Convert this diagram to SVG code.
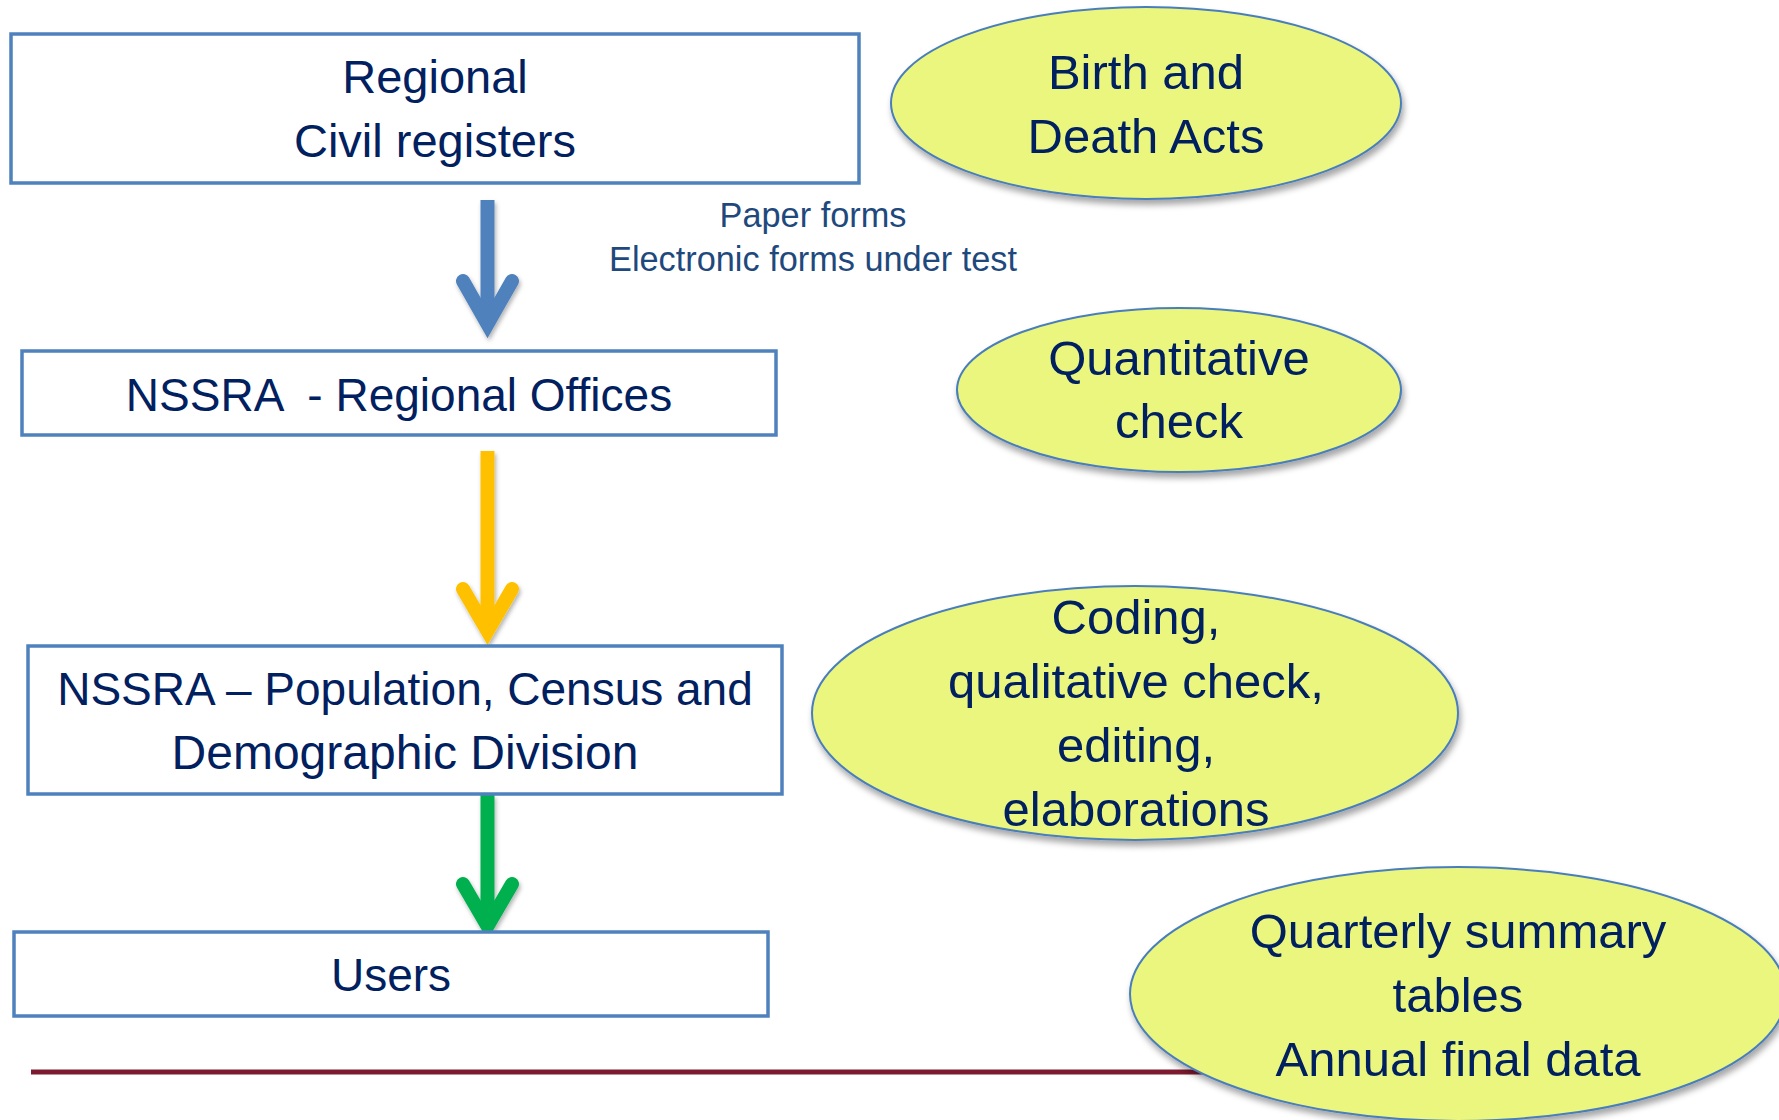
<svg xmlns="http://www.w3.org/2000/svg" width="1779" height="1120" viewBox="0 0 1779 1120">
  <style>
    .box { fill: #ffffff; stroke: #4F81BD; stroke-width: 3.5; }
    .oval { fill: #EBF67E; stroke: #4A7EBB; stroke-width: 2; filter: url(#shadow); }
    .t { font-family: "Liberation Sans", Arial, sans-serif; fill: #002060; text-anchor: middle; }
    .bt { font-size: 46px; }
    .bt2 { font-size: 47px; }
    .bt3 { font-size: 48px; }
    .et { font-size: 49px; }
    .st { font-family: "Liberation Sans", Arial, sans-serif; fill: #1F497D; text-anchor: middle; font-size: 34.3px; }
    .shaft { fill: none; stroke-width: 14; stroke-linecap: butt; }
    .head { fill: none; stroke-width: 14; stroke-linecap: round; stroke-linejoin: miter; stroke-miterlimit: 4; }
  </style>
  <defs>
    <filter id="shadow" x="-10%" y="-10%" width="125%" height="135%">
      <feDropShadow dx="2" dy="5" stdDeviation="3" flood-color="#000000" flood-opacity="0.35"/>
    </filter>
    <filter id="ashadow" x="-50%" y="-10%" width="200%" height="130%">
      <feDropShadow dx="1.5" dy="3" stdDeviation="2" flood-color="#000000" flood-opacity="0.3"/>
    </filter>
  </defs>

  <rect width="1779" height="1120" fill="#ffffff"/>

  <!-- bottom rule -->
  <line x1="31" y1="1072" x2="1300" y2="1072" stroke="#7E1A2F" stroke-width="5"/>

  <g id="connectors">
    <g id="arrow-blue" stroke="#4F81BD" filter="url(#ashadow)">
      <line class="shaft" x1="487.5" y1="200" x2="487.5" y2="324"/>
      <polyline class="head" points="463,281 487.5,324 512,281"/>
    </g>
    <g id="arrow-yellow" stroke="#FFC000" filter="url(#ashadow)">
      <line class="shaft" x1="487.5" y1="451" x2="487.5" y2="631"/>
      <polyline class="head" points="463,589 487.5,631 512,589"/>
    </g>
    <g id="arrow-green" stroke="#00B050" filter="url(#ashadow)">
      <line class="shaft" x1="487.5" y1="795" x2="487.5" y2="926"/>
      <polyline class="head" points="463,884 487.5,926 512,884"/>
    </g>
    <g id="label-forms">
      <text class="st" x="813" y="227">Paper forms</text>
      <text class="st" x="813" y="271">Electronic forms under test</text>
    </g>
  </g>

  <g id="node-civil-registers">
    <rect class="box" x="11" y="34" width="848" height="149"/>
    <text class="t bt2" x="435" y="93">Regional</text>
    <text class="t bt2" x="435" y="157">Civil registers</text>
  </g>

  <g id="node-regional-offices">
    <rect class="box" x="22" y="351" width="754" height="84"/>
    <text class="t bt" x="399" y="411" xml:space="preserve">NSSRA  - Regional Offices</text>
  </g>

  <g id="node-population-division">
    <rect class="box" x="28" y="646" width="754" height="148"/>
    <text class="t bt" x="405" y="705">NSSRA – Population, Census and</text>
    <text class="t bt3" x="405" y="769">Demographic Division</text>
  </g>

  <g id="node-users">
    <rect class="box" x="14" y="932" width="754" height="84"/>
    <text class="t bt" x="391" y="991">Users</text>
  </g>

  <g id="oval-birth-death">
    <ellipse class="oval" cx="1146" cy="103" rx="255" ry="96"/>
    <text class="t et" x="1146" y="89">Birth and</text>
    <text class="t et" x="1146" y="153">Death Acts</text>
  </g>

  <g id="oval-quantitative">
    <ellipse class="oval" cx="1179" cy="390" rx="222" ry="82"/>
    <text class="t et" x="1179" y="375">Quantitative</text>
    <text class="t et" x="1179" y="438">check</text>
  </g>

  <g id="oval-coding">
    <ellipse class="oval" cx="1135" cy="713" rx="323" ry="127"/>
    <text class="t et" x="1136" y="634">Coding,</text>
    <text class="t et" x="1136" y="698">qualitative check,</text>
    <text class="t et" x="1136" y="762">editing,</text>
    <text class="t et" x="1136" y="826">elaborations</text>
  </g>

  <g id="oval-outputs">
    <ellipse class="oval" cx="1458" cy="994" rx="328" ry="127"/>
    <text class="t et" x="1458" y="948">Quarterly summary</text>
    <text class="t et" x="1458" y="1012">tables</text>
    <text class="t et" x="1458" y="1076">Annual final data</text>
  </g>
</svg>
